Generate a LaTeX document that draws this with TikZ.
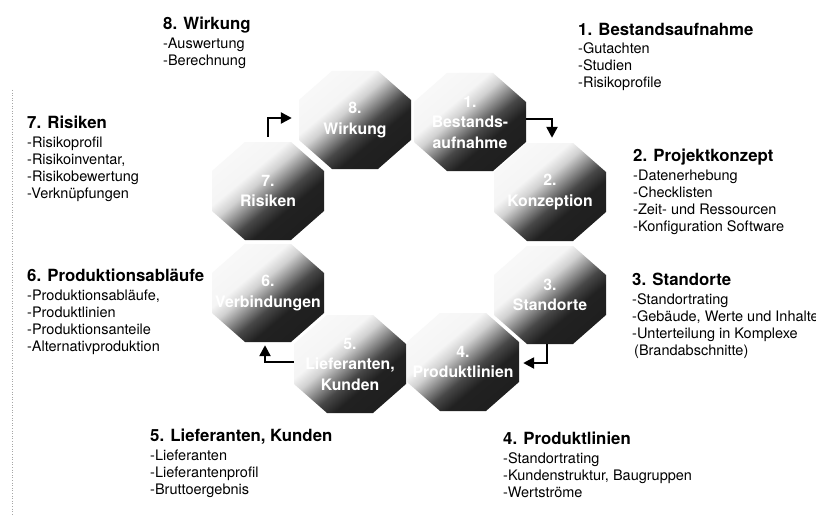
\documentclass[tikz,border=0pt]{standalone}
\usepackage{fontspec}
\setmainfont{TeX Gyre Heros}
\usetikzlibrary{arrows.meta,calc}
\pgfdeclareverticalshading{octfade}{100bp}{color(0bp)=(black!90); color(37bp)=(black!87); color(44bp)=(black!72); color(50bp)=(black!45); color(56bp)=(black!18); color(62bp)=(black!4); color(100bp)=(white)}
\newcommand\hd{\fontsize{16.8}{17}\selectfont\bfseries}
\newcommand\drawoct[2]{%
  \shade[octshade] ({#1-23},{#2-49}) -- ({#1+23},{#2-49}) -- ({#1+56},{#2-20}) -- ({#1+56},{#2+20}) -- ({#1+23},{#2+49}) -- ({#1-23},{#2+49}) -- ({#1-56},{#2+20}) -- ({#1-56},{#2-20}) -- cycle;}
\begin{document}
\begin{tikzpicture}[x=1pt,y=-1pt,
  octlabel/.style={minimum width=112pt, minimum height=98pt, inner sep=0pt, text=white, align=center, font=\fontsize{15.8}{20.5}\selectfont\bfseries},
  infotext/.style={anchor=north west, inner sep=0pt, align=left, font=\fontsize{14.5}{17}\selectfont},
  flowarrow/.style={line width=2.4pt, -{Triangle[length=11pt,width=11pt]}},
  octshade/.style={shading=octfade, shading angle=40}
]
\useasboundingbox[fill=white] (0,0) rectangle (816,516);
\draw[black!35, dotted, line width=0.6pt] (12,90) -- (12,516);
% octagons (drawing order so dark edges lie over light parts)
\drawoct{463}{362}
\drawoct{550}{295}
\drawoct{550}{192}
\drawoct{470}{122}
\drawoct{350}{364}
\drawoct{268}{293}
\drawoct{268}{191}
\drawoct{355}{120}
% labels
\node[octlabel] (n8) at (355,120) {8.\\Wirkung};
\node[octlabel] (n1) at (470,122) {1.\\Bestands-\\aufnahme};
\node[octlabel] (n2) at (550,192) {2.\\Konzeption};
\node[octlabel] (n3) at (550,295) {3.\\Standorte};
\node[octlabel] (n4) at (463,362) {4.\\Produktlinien};
\node[octlabel] (n5) at (350,364) {5.\\Lieferanten,\\Kunden};
\node[octlabel] (n6) at (268,293) {6.\\Verbindungen};
\node[octlabel] (n7) at (268,191) {7.\\Risiken};
% arrows
\draw[flowarrow] ([yshift=5pt]n7.north) |- ([xshift=-7pt,yshift=2pt]n8.west);
\draw[flowarrow] ([yshift=3pt]n1.east) -| ([xshift=2pt,yshift=5pt]n2.north);
\draw[flowarrow] ([xshift=-3pt]n3.south) |- ([xshift=4pt,yshift=-1pt]n4.east);
\draw[flowarrow] ([yshift=2pt]n5.west) -| ([xshift=-3pt,yshift=-3pt]n6.south);
% descriptions
\node[infotext] (t8) at (163,17) {{\hd 8. Wirkung}\\[1.5pt]-Auswertung\\-Berechnung};
\node[infotext] (t1) at (578,23) {{\hd 1. Bestandsaufnahme}\\[1.5pt]-Gutachten\\-Studien\\-Risikoprofile};
\node[infotext] (t2) at (633,149) {{\hd 2. Projektkonzept}\\[1.5pt]-Datenerhebung\\-Checklisten\\-Zeit- und Ressourcen\\-Konfiguration Software};
\node[infotext] (t3) at (632,273) {{\hd 3. Standorte}\\[1.5pt]-Standortrating\\-Gebäude, Werte und Inhalte\\-Unterteilung in Komplexe\\\hspace{2pt}(Brandabschnitte)};
\node[infotext] (t7) at (27,116) {{\hd 7. Risiken}\\[1.5pt]-Risikoprofil\\-Risikoinventar,\\-Risikobewertung\\-Verknüpfungen};
\node[infotext] (t6) at (27,269) {{\hd 6. Produktionsabläufe}\\[1.5pt]-Produktionsabläufe,\\-Produktlinien\\-Produktionsanteile\\-Alternativproduktion};
\node[infotext] (t5) at (150,429) {{\hd 5. Lieferanten, Kunden}\\[1.5pt]-Lieferanten\\-Lieferantenprofil\\-Bruttoergebnis};
\node[infotext] (t4) at (503,432) {{\hd 4. Produktlinien}\\[1.5pt]-Standortrating\\-Kundenstruktur, Baugruppen\\-Wertströme};
\end{tikzpicture}
\end{document}
